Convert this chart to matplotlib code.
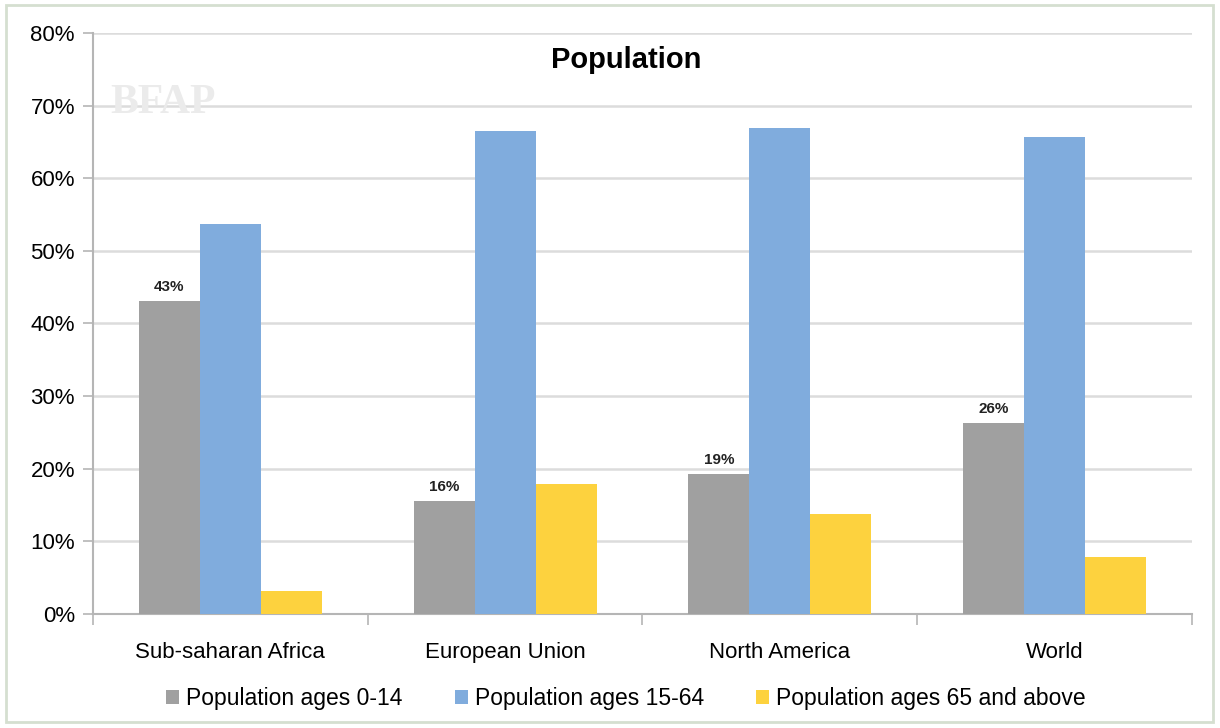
import matplotlib.pyplot as plt
import matplotlib as mpl
import numpy as np

mpl.rcParams['font.family'] = ['Liberation Sans', 'DejaVu Sans']

regions = ["Sub-saharan Africa", "European Union", "North America", "World"]
series_names = ["Population ages 0-14", "Population ages 15-64", "Population ages 65 and above"]
ages_0_14 = [43.1, 15.6, 19.3, 26.3]
ages_15_64 = [53.7, 66.5, 66.9, 65.7]
ages_65_up = [3.2, 17.9, 13.8, 7.9]
labels_0_14 = ["43%", "16%", "19%", "26%"]

colors = ["#a0a0a0", "#80acdd", "#fdd23e"]

fig = plt.figure(figsize=(12.2, 7.28), dpi=100)
ax = fig.add_axes([0.0762, 0.1566, 0.9008, 0.7981])

x = np.arange(len(regions))
w = 0.222
for i, (vals, name) in enumerate(zip([ages_0_14, ages_15_64, ages_65_up], series_names)):
    bars = ax.bar(x + (i - 1) * w, vals, width=w, color=colors[i], label=name, zorder=3)
    if i == 0:
        for b, lab in zip(bars, labels_0_14):
            ax.annotate(lab, (b.get_x() + b.get_width() / 2, b.get_height()),
                        xytext=(0, 5), textcoords="offset points", ha="center", va="bottom",
                        fontsize=11, fontweight="bold", color="#222222")

ax.set_xlim(-0.5, 3.5)
ax.set_ylim(0, 80)
ax.set_yticks(np.arange(0, 81, 10))
ax.set_yticklabels([f"{v}%" for v in range(0, 81, 10)], fontsize=16)
ax.yaxis.grid(True, color="#dcdcdc", linewidth=1.8, zorder=0)
ax.set_axisbelow(True)

ax.set_xticks(x)
ax.set_xticklabels(regions, fontsize=16)
ax.tick_params(axis="x", length=0, pad=20)
ax.set_xticks(np.arange(-0.5, 4, 1), minor=True)
ax.tick_params(axis="x", which="minor", length=8, color="#b5b5b5", width=1.2)
ax.tick_params(axis="y", length=7, color="#b5b5b5", width=1.2, pad=6)

for s in ["top", "right"]:
    ax.spines[s].set_visible(False)
for s in ["left", "bottom"]:
    ax.spines[s].set_color("#b5b5b5")
    ax.spines[s].set_linewidth(1.5)

ax.set_title("Population", fontsize=21, fontweight="bold", x=0.485, y=0.925)

# faint watermark
fig.text(0.09, 0.845, "BFAP", fontsize=30, fontweight="bold", family="Liberation Serif",
         color="#ebebeb", zorder=1)

leg = ax.legend(loc="upper center", bbox_to_anchor=(0.485, -0.09), ncol=3, frameon=False,
                fontsize=16.5, handlelength=0.55, handleheight=0.55, handletextpad=0.3,
                columnspacing=2.3)

# outer frame
fig.patches.append(mpl.patches.Rectangle((0.005, 0.008), 0.989, 0.985, transform=fig.transFigure,
                                         fill=False, edgecolor="#d5dfd0", linewidth=2))

fig.savefig("out.png", dpi=100)
